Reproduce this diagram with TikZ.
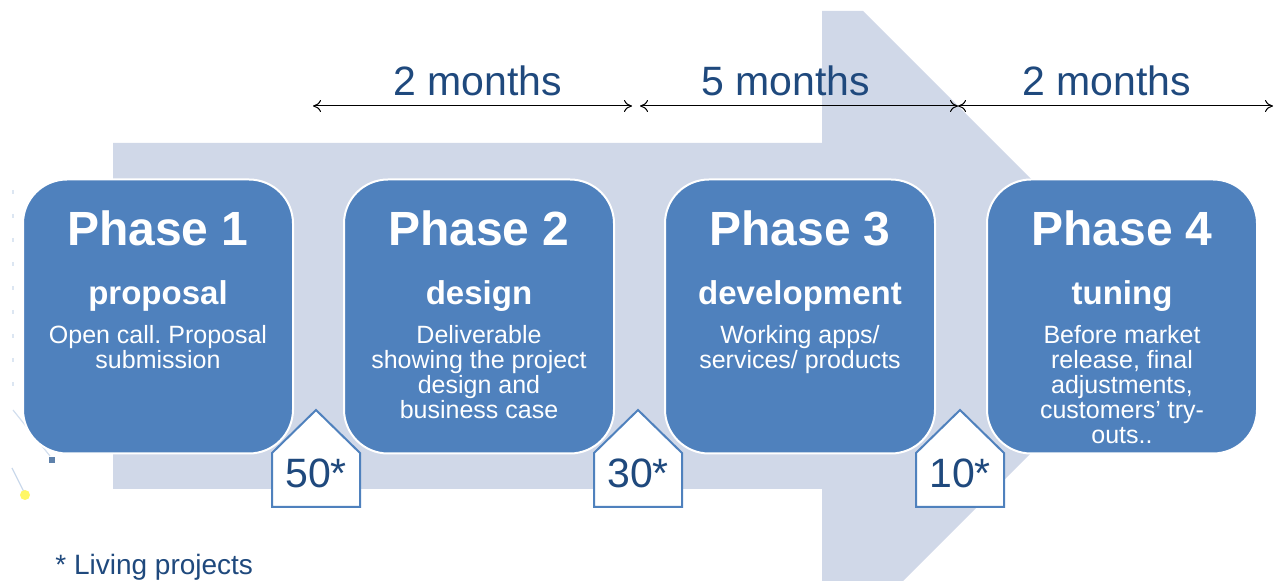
\documentclass[tikz,border=0pt]{standalone}
\usepackage{fontspec}
\setmainfont{Liberation Sans}
\usetikzlibrary{arrows.meta}
\frenchspacing
\definecolor{arrowgray}{HTML}{D0D8E8}
\definecolor{phaseblue}{HTML}{4F81BD}
\definecolor{textblue}{HTML}{1F497D}
\tikzset{
  phasebox/.style={draw=white, line width=1pt, fill=phaseblue, rounded corners=22pt,
    minimum width=135pt, minimum height=137pt, inner sep=0pt},
  phasetitle/.style={white, font=\bfseries\fontsize{24}{24}\selectfont, anchor=base},
  phasesub/.style={white, font=\bfseries\fontsize{16.5}{16.5}\selectfont, anchor=base},
  phasedesc/.style={white, font=\fontsize{12.5}{12.5}\selectfont, align=center, anchor=north, inner sep=0pt},
  badge/.style={draw=phaseblue, line width=1pt, fill=white},
  badgetext/.style={textblue, font=\fontsize{20.5}{20.5}\selectfont, anchor=base},
  span/.style={draw=black, line width=0.5pt, {To[length=4pt,width=6pt]}-{To[length=4pt,width=6pt]}},
  spantext/.style={textblue, font=\fontsize{20.5}{20.5}\selectfont, anchor=base}
}
\begin{document}
\begin{tikzpicture}[x=0.5pt, y=-0.5pt]
    \useasboundingbox (0,0) rectangle (1279,581);
    % big light arrow in the background
    \begin{scope}
        \clip (0,0) rectangle (1279,581);
        \fill[arrowgray] (113,143) -- (822,143) -- (822,11) -- (863,11) -- (1168,316)
            -- (863,621) -- (822,621) -- (822,489) -- (113,489) -- cycle;
    \end{scope}
    % left edge remains
    \draw[phaseblue!20, line width=0.6pt, dash pattern=on 2pt off 10pt] (13,190) -- (13,400);
    \draw[phaseblue!25, line width=0.6pt] (13,410) -- (50,456);
    \fill[phaseblue!70!gray] (49,457) rectangle (55,463);
    \draw[phaseblue!30, line width=0.6pt] (12,468) -- (25,494);
    \fill[yellow!60] (25,495) circle (5);
    % four phases
    \foreach \i/\cx/\sub/\desc in {
        1/158/proposal/{Open call. Proposal\\submission},
        2/479/design/{Deliverable\\showing the project\\design and\\business case},
        3/800/development/{Working apps/\\services/ products},
        4/1122/tuning/{Before market\\release, final\\adjustments,\\customers’ try-\\outs..}}
    {
        \node[phasebox] (p\i) at (\cx,316.5) {};
        \node[phasetitle] (p\i title) at (\cx,246) {Phase \i};
        \node[phasesub] (p\i sub) at (\cx,305) {\sub};
        \node[phasedesc] (p\i desc) at (\cx,325) {\desc};
    }
    % living projects badges
    \foreach \j/\c/\n in {1/316/50, 2/638/30, 3/960/10}
    {
        \draw[badge] (\c-44,507) -- (\c-44,453) -- (\c,410) -- (\c+44,453) -- (\c+44,507) -- cycle;
        \node[badgetext] (b\j) at (\c,488) {\n*};
    }
    % durations
    \coordinate (t0) at (313,106);
    \coordinate (t1) at (632,106);
    \coordinate (t2) at (640,106);
    \coordinate (t3) at (958,106);
    \coordinate (t4) at (1273,106);
    \draw[span] (t0) -- (t1);
    \draw[span] (t2) -- (t3);
    \draw[span] (t3) -- (t4);
    \node[spantext] (m1) at (478,96) {2 months};
    \node[spantext] (m2) at (786,96) {5 months};
    \node[spantext] (m3) at (1107,96) {2 months};
    % note
    \node[textblue, font=\fontsize{14}{14}\selectfont, anchor=base west, inner sep=0pt] (note) at (55,575) {* Living projects};
\end{tikzpicture}
\end{document}
